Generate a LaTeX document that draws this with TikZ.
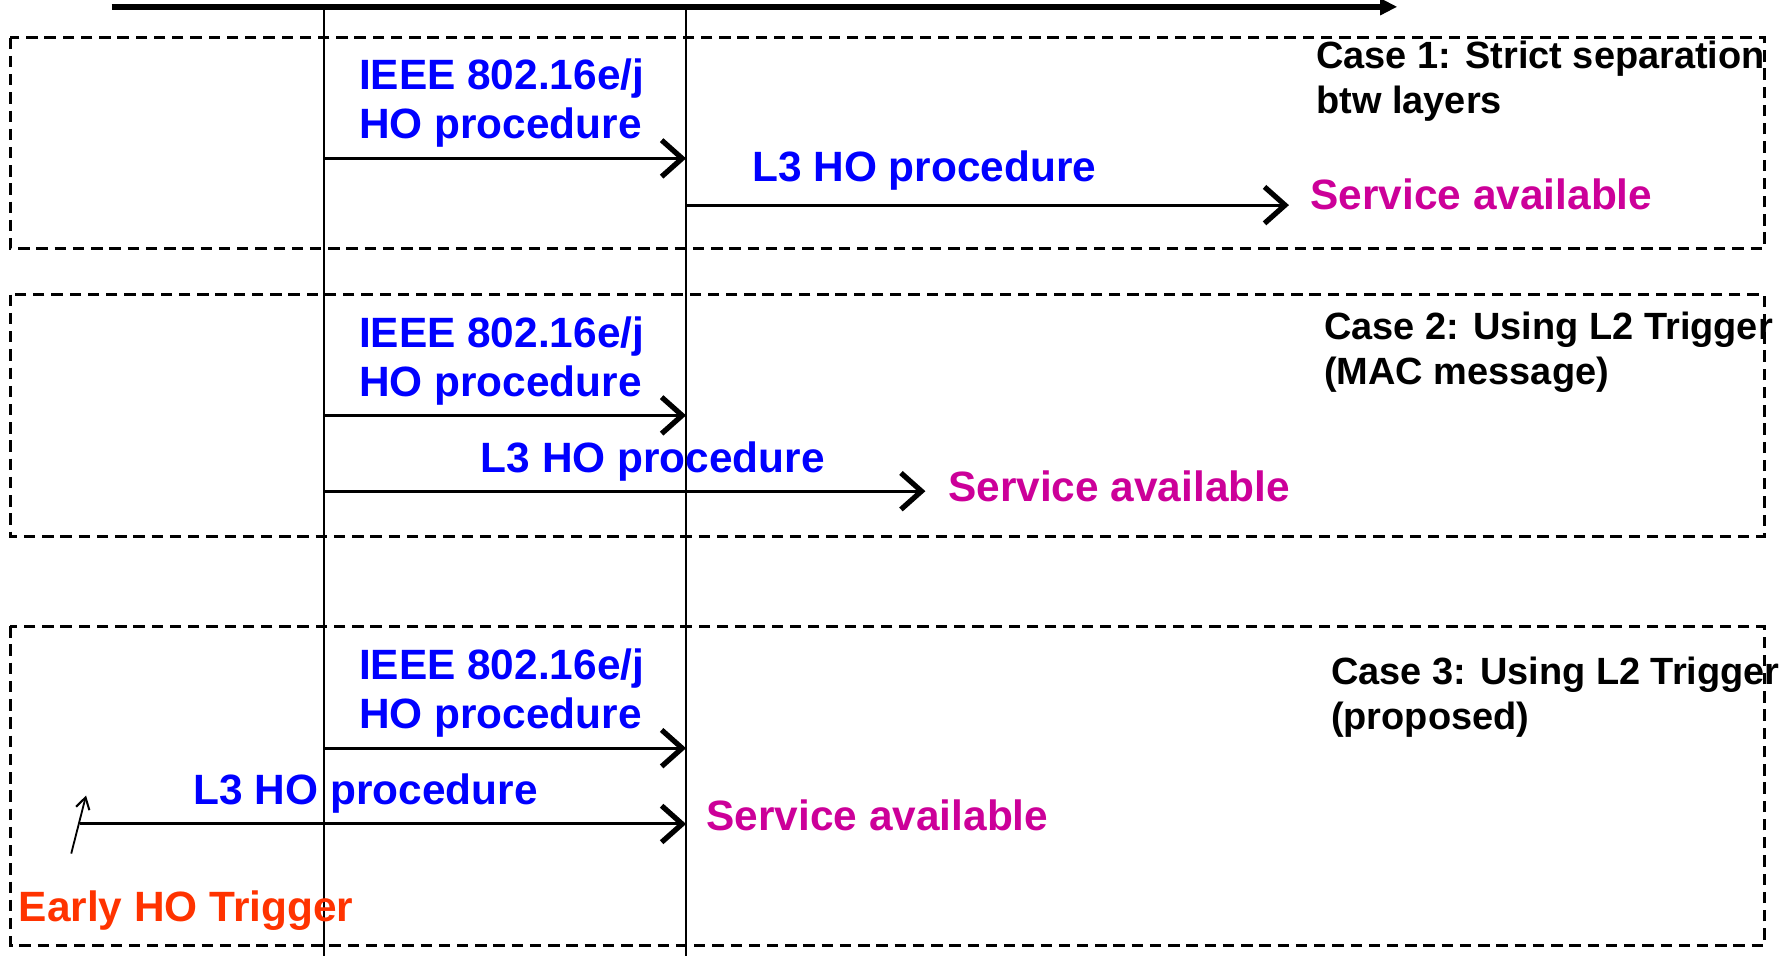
\documentclass[tikz,border=0pt]{standalone}
\usepackage{fontspec}
\setmainfont{Liberation Sans}
\usetikzlibrary{arrows.meta}
\definecolor{hoblue}{RGB}{0,0,255}
\definecolor{svcmag}{RGB}{204,0,153}
\definecolor{trigred}{RGB}{255,51,0}
\begin{document}
\begin{tikzpicture}[x=0.5pt,y=-0.5pt,
  lbl/.style={anchor=base west,inner sep=0pt,outer sep=0pt,align=left},
  bluetxt/.style={lbl,text=hoblue,font=\bfseries\fontsize{18.6}{21.5}\selectfont},
  svctxt/.style={lbl,text=svcmag,font=\bfseries\fontsize{18.6}{21.5}\selectfont},
  trigtxt/.style={lbl,text=trigred,font=\bfseries\fontsize{18.6}{21.5}\selectfont},
  casetxt/.style={lbl,text=black,font=\bfseries\fontsize{16.65}{19.5}\selectfont},
  casebox/.style={draw=black,line width=1.2pt,dash pattern=on 5pt off 3pt},
  msg/.style={line width=1.3pt,-{Straight Barb[length=9pt,width=16pt,line width=2.3pt]}},
  trigarrow/.style={line width=0.8pt,-{Straight Barb[length=5pt,width=6pt,line width=0.9pt]}},
  lifeline/.style={line width=1pt},
  timeaxis/.style={line width=2.4pt,-{Triangle[length=7.5pt,width=7pt]}},
]
\useasboundingbox (0,0) rectangle (1568,838);

% case boxes
\draw[casebox] (9,33) rectangle (1548,218);
\draw[casebox] (9,258.5) rectangle (1548,470.5);
\draw[casebox] (9,549.5) rectangle (1548,829.5);

% time axis and lifelines
\coordinate (t0) at (98,6);
\coordinate (t1) at (1226,6);
\coordinate (la0) at (284,6);
\coordinate (la1) at (284,840);
\coordinate (lb0) at (602,6);
\coordinate (lb1) at (602,840);
\draw[lifeline] (la0) -- (la1);
\draw[lifeline] (lb0) -- (lb1);
\draw[timeaxis] (t0) -- (t1);

% case 1
\coordinate (c1a) at (284,139);
\coordinate (c1b) at (602,139);
\coordinate (c1c) at (602,180);
\coordinate (c1d) at (1131,180);
\draw[msg] (c1a) -- (c1b);
\draw[msg] (c1c) -- (c1d);
\node[bluetxt] (ieee1) at (315,121.5) {IEEE 802.16e/j\\HO procedure};
\node[bluetxt] (l3a) at (660,159) {L3 HO procedure};
\node[svctxt] (svc1) at (1150,184) {Service available};
\node[casetxt] (case1) at (1155,99.5) {Case 1: Strict separation\\btw layers};

% case 2
\coordinate (c2a) at (284,364.5);
\coordinate (c2b) at (602,364.5);
\coordinate (c2c) at (284,431);
\coordinate (c2d) at (812,431);
\draw[msg] (c2a) -- (c2b);
\draw[msg] (c2c) -- (c2d);
\node[bluetxt] (ieee2) at (315,347.5) {IEEE 802.16e/j\\HO procedure};
\node[bluetxt] (l3b) at (422,415) {L3 HO procedure};
\node[svctxt] (svc2) at (832,440) {Service available};
\node[casetxt] (case2) at (1162,337) {Case 2: Using L2 Trigger\\(MAC message)};

% case 3
\coordinate (c3a) at (284,656.5);
\coordinate (c3b) at (602,656.5);
\coordinate (c3c) at (70,723);
\coordinate (c3d) at (602,723);
\coordinate (tr0) at (62.5,749);
\coordinate (tr1) at (75.5,698);
\draw[msg] (c3a) -- (c3b);
\draw[msg] (c3c) -- (c3d);
\draw[trigarrow] (tr0) -- (tr1);
\node[bluetxt] (ieee3) at (315,639) {IEEE 802.16e/j\\HO procedure};
\node[bluetxt] (l3c) at (170,706) {L3 HO procedure};
\node[svctxt] (svc3) at (620,728.5) {Service available};
\node[casetxt] (case3) at (1168,640) {Case 3: Using L2 Trigger\\(proposed)};
\node[trigtxt] (trig) at (16.5,809) {Early HO Trigger};
\end{tikzpicture}
\end{document}
